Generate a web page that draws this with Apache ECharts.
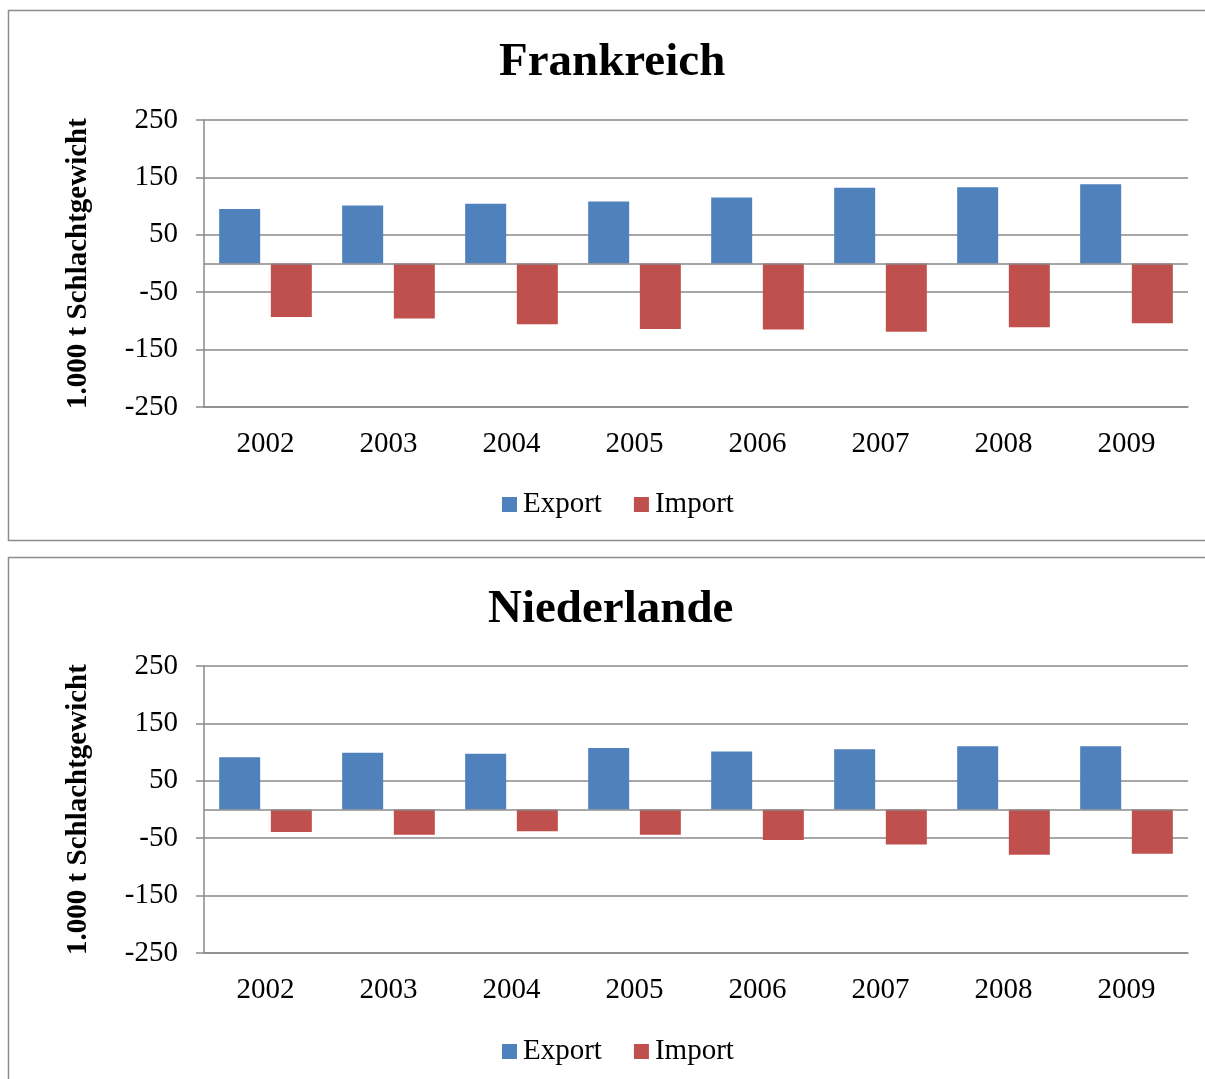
<!DOCTYPE html>
<html>
<head>
<meta charset="utf-8">
<script src="https://cdn.jsdelivr.net/npm/echarts@6/dist/echarts.min.js"></script>
<style>
  html, body { margin: 0; padding: 0; background: #ffffff; }
  #chart { width: 1205px; height: 1079px; }
</style>
</head>
<body>
<div id="chart"></div>
<script>
const years = ['2002', '2003', '2004', '2005', '2006', '2007', '2008', '2009'];
const frExport = [95, 101, 104, 108, 115, 132, 133, 138];
const frImport = [-93, -96, -106, -114, -115, -119, -111, -104];
const nlExport = [91, 99, 97, 107, 101, 105, 110, 110];
const nlImport = [-39, -44, -38, -44, -53, -61, -79, -77];
const titles = ['Frankreich', 'Niederlande'];
const yName = '1.000 t Schlachtgewicht';
const seriesNames = ['Export', 'Import'];

const FONT = '"Liberation Serif", "Times New Roman", serif';
const GRID_COLOR = '#8a8a8a';
const BLUE = '#4F81BD';
const RED = '#C0504D';
const OFFSET = 547;

const chart = echarts.init(document.getElementById('chart'), null, { renderer: 'canvas' });

function xAxisFor(i) {
  return {
    type: 'category', gridIndex: i, data: years,
    axisLine: { onZero: false, lineStyle: { color: GRID_COLOR, width: 1.5 } },
    axisTick: { show: false },
    axisLabel: { color: '#000', fontFamily: FONT, fontSize: 29, margin: 23 }
  };
}
function yAxisFor(i) {
  return {
    type: 'value', gridIndex: i, min: -250, max: 250, interval: 100,
    name: yName, nameLocation: 'middle', nameRotate: 90, nameGap: 111,
    nameTextStyle: { color: '#000', fontFamily: FONT, fontSize: 29, fontWeight: 'bold' },
    axisLine: { show: true, lineStyle: { color: GRID_COLOR, width: 1.5 } },
    axisTick: { show: true, length: 8, lineStyle: { color: GRID_COLOR, width: 1.5 } },
    axisLabel: { color: '#000', fontFamily: FONT, fontSize: 29, margin: 26 },
    splitLine: { show: true, lineStyle: { color: GRID_COLOR, width: 1.5 } }
  };
}
function barSeries(name, data, color, i, withZero) {
  const s = {
    name: name, type: 'bar', xAxisIndex: i, yAxisIndex: i, data: data,
    barWidth: 41, barGap: '26%',
    itemStyle: { color: color },
    emphasis: { disabled: true }
  };
  if (withZero) {
    s.markLine = {
      silent: true, symbol: 'none', label: { show: false },
      lineStyle: { color: GRID_COLOR, width: 1.5, type: 'solid' },
      data: [{ yAxis: 0 }]
    };
  }
  return s;
}

const option = {
  animation: false,
  backgroundColor: '#ffffff',
  graphic: [
    { type: 'rect', shape: { x: 8.5, y: 10.5, width: 1210, height: 530 },
      style: { fill: 'none', stroke: '#8c8c8c', lineWidth: 1.5 }, z: -10 },
    { type: 'rect', shape: { x: 8.5, y: 557.5, width: 1210, height: 540 },
      style: { fill: 'none', stroke: '#8c8c8c', lineWidth: 1.5 }, z: -10 }
  ],
  title: [
    { text: titles[0], left: 499, top: 39, padding: 0,
      textStyle: { fontFamily: FONT, fontSize: 47, fontWeight: 'bold', color: '#000' } },
    { text: titles[1], left: 488, top: 39 + OFFSET, padding: 0,
      textStyle: { fontFamily: FONT, fontSize: 47, fontWeight: 'bold', color: '#000' } }
  ],
  legend: [
    { data: seriesNames, left: 502, top: 490, padding: 0, itemWidth: 15, itemHeight: 15,
      itemGap: 32, icon: 'rect', selectedMode: false,
      textStyle: { fontFamily: FONT, fontSize: 29, color: '#000', padding: [0, 0, 0, 1] } },
    { data: seriesNames, left: 502, top: 490 + OFFSET, padding: 0, itemWidth: 15, itemHeight: 15,
      itemGap: 32, icon: 'rect', selectedMode: false,
      textStyle: { fontFamily: FONT, fontSize: 29, color: '#000', padding: [0, 0, 0, 1] } }
  ],
  grid: [
    { left: 204, top: 120, width: 984, height: 287, containLabel: false },
    { left: 204, top: 120 + OFFSET - 1, width: 984, height: 287, containLabel: false }
  ],
  xAxis: [xAxisFor(0), xAxisFor(1)],
  yAxis: [yAxisFor(0), yAxisFor(1)],
  series: [
    barSeries(seriesNames[0], frExport, BLUE, 0, true),
    barSeries(seriesNames[1], frImport, RED, 0, false),
    barSeries(seriesNames[0], nlExport, BLUE, 1, true),
    barSeries(seriesNames[1], nlImport, RED, 1, false)
  ]
};
chart.setOption(option);
</script>
</body>
</html>
